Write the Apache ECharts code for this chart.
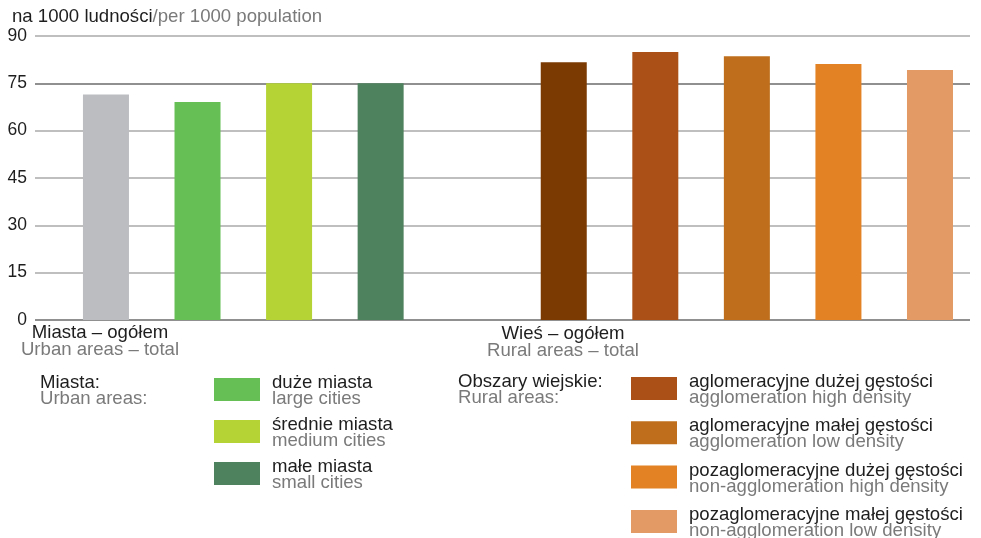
<!DOCTYPE html>
<html>
<head>
<meta charset="utf-8">
<script src="https://cdn.jsdelivr.net/npm/echarts@6/dist/echarts.min.js"></script>
<style>
html,body{margin:0;padding:0;background:#fff;}
#chart{width:981px;height:538px;}
</style>
</head>
<body>
<div id="chart"></div>
<script>
// ---- data ----
var categories = ['Miasta – ogółem', 'duże miasta', 'średnie miasta', 'małe miasta', '',
                  'Wieś – ogółem', 'aglomeracyjne dużej gęstości', 'aglomeracyjne małej gęstości',
                  'pozaglomeracyjne dużej gęstości', 'pozaglomeracyjne małej gęstości'];
var values = [71.5, 69.1, 75.0, 75.0, null, 81.7, 84.9, 83.6, 81.1, 79.2];
var colors = ['#BCBDC0', '#65BF55', '#B5D334', '#4E815E', '#ffffff',
              '#7B3A02', '#AB5117', '#BF6F1B', '#E38225', '#E39A64'];
var yTicks = [0, 15, 30, 45, 60, 75, 90];

var urbanLegend = [
  ['duże miasta', 'large cities', 1],
  ['średnie miasta', 'medium cities', 2],
  ['małe miasta', 'small cities', 3]
];
var ruralLegend = [
  ['aglomeracyjne dużej gęstości', 'agglomeration high density', 6],
  ['aglomeracyjne małej gęstości', 'agglomeration low density', 7],
  ['pozaglomeracyjne dużej gęstości', 'non-agglomeration high density', 8],
  ['pozaglomeracyjne małej gęstości', 'non-agglomeration low density', 9]
];

// ---- chart ----
var FONT = '"Liberation Sans", Arial, sans-serif';
var DARK = '#1e1e1e';
var GRAY = '#7a7a7a';
var FS = 18.6;

var chart = echarts.init(document.getElementById('chart'), null, {renderer: 'canvas'});

var barData = values.map(function (v, i) {
  return {value: [i, v], name: categories[i], itemStyle: {color: colors[i]}};
});

function txt(x, y, text, color, align) {
  return {type: 'text', x: x, y: y, silent: true,
    style: {text: text, fill: color, fontSize: FS, fontFamily: FONT,
      align: align || 'left', verticalAlign: 'middle'}};
}

var graphics = [];
graphics.push({type: 'text', x: 12, y: 17, silent: true,
  style: {text: '{a|na 1000 ludności}{b|/per 1000 population}', fontFamily: FONT, fontSize: FS,
    verticalAlign: 'middle', align: 'left',
    rich: {a: {fill: DARK, fontSize: FS, fontFamily: FONT}, b: {fill: GRAY, fontSize: FS, fontFamily: FONT}}}});

// category group labels
graphics.push(txt(100, 333, 'Miasta – ogółem', DARK, 'center'));
graphics.push(txt(100, 350, 'Urban areas – total', GRAY, 'center'));
graphics.push(txt(563, 334, 'Wieś – ogółem', DARK, 'center'));
graphics.push(txt(563, 351, 'Rural areas – total', GRAY, 'center'));

// legend headers
graphics.push(txt(40, 383, 'Miasta:', DARK));
graphics.push(txt(40, 399, 'Urban areas:', GRAY));
graphics.push(txt(458, 382, 'Obszary wiejskie:', DARK));
graphics.push(txt(458, 398, 'Rural areas:', GRAY));

urbanLegend.forEach(function (it, k) {
  var top = 378 + k * 42;
  graphics.push({type: 'rect', silent: true, shape: {x: 214, y: top, width: 46, height: 23}, style: {fill: colors[it[2]]}});
  graphics.push(txt(272, top + 5, it[0], DARK));
  graphics.push(txt(272, top + 21, it[1], GRAY));
});
ruralLegend.forEach(function (it, k) {
  var top = 377 + k * 44.3;
  graphics.push({type: 'rect', silent: true, shape: {x: 631, y: top, width: 46, height: 23}, style: {fill: colors[it[2]]}});
  graphics.push(txt(689, top + 5, it[0], DARK));
  graphics.push(txt(689, top + 21, it[1], GRAY));
});

var option = {
  backgroundColor: '#ffffff',
  animation: false,
  textStyle: {fontFamily: FONT},
  grid: {left: 35, right: 11, top: 36, bottom: 218, containLabel: false},
  xAxis: {
    type: 'value', min: -0.775, max: 9.437,
    axisLine: {show: false}, axisTick: {show: false}, axisLabel: {show: false}, splitLine: {show: false}
  },
  yAxis: {
    type: 'value', min: yTicks[0], max: yTicks[yTicks.length - 1], interval: 15,
    axisLine: {show: false}, axisTick: {show: false},
    axisLabel: {color: DARK, fontSize: 17.5, fontFamily: FONT, margin: 8},
    splitLine: {lineStyle: {color: '#aaaaaa', width: 1.5}}
  },
  series: [{
    type: 'bar',
    barWidth: 46,
    data: barData,
    z: 3,
    markLine: {
      silent: true, symbol: 'none', label: {show: false}, z: 2,
      lineStyle: {color: '#808080', width: 1.5, type: 'solid'},
      data: [{yAxis: 0}, {yAxis: 75}]
    }
  }],
  graphic: graphics
};
chart.setOption(option);
</script>
</body>
</html>
